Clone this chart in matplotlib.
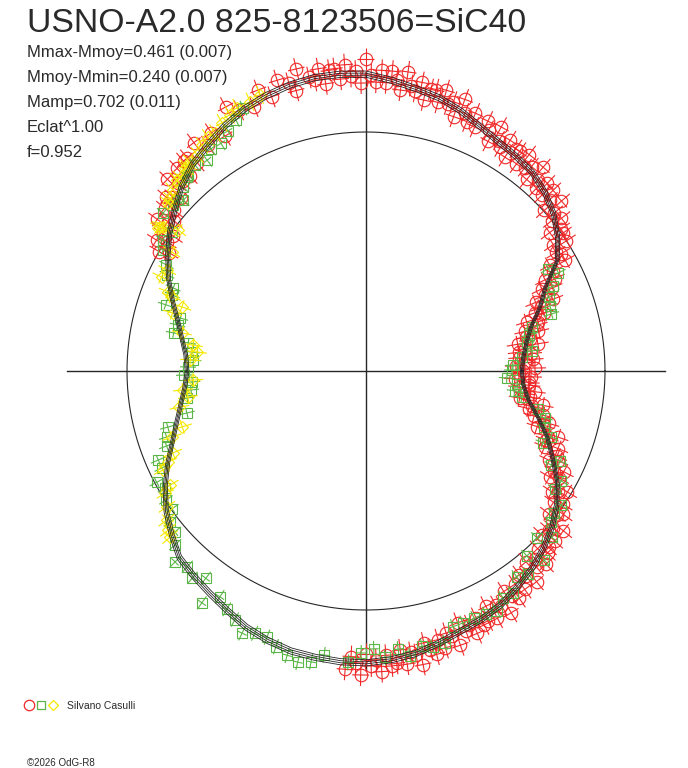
import numpy as np
import matplotlib
matplotlib.use('Agg')
import matplotlib.pyplot as plt
from matplotlib.collections import LineCollection

# polar light curve: angle = phase (deg), radius in plot units (reference circle = 2.39)
model_deg = list(range(0, 360, 5))
model_r = [1.56, 1.58, 1.63, 1.71, 1.85, 1.98, 2.21, 2.34, 2.45, 2.53,
           2.59, 2.62, 2.65, 2.70, 2.77, 2.83, 2.87, 2.92, 2.97, 2.98,
           2.98, 2.96, 2.93, 2.89, 2.83, 2.76, 2.70, 2.61, 2.50, 2.40,
           2.29, 2.18, 2.06, 1.95, 1.87, 1.81, 1.79, 1.82, 1.88, 1.96,
           2.06, 2.19, 2.32, 2.44, 2.54, 2.64, 2.68, 2.72, 2.77, 2.83,
           2.87, 2.90, 2.91, 2.92, 2.92, 2.90, 2.87, 2.82, 2.77, 2.74,
           2.70, 2.64, 2.58, 2.51, 2.43, 2.33, 2.21, 2.06, 1.93, 1.78,
           1.65, 1.58]
model_spread = [0.989, 0.996, 1.003, 1.010]

red_deg = [150, 149, 148, 147, 146, 145, 144, 143, 142, 141,
           140, 139, 138, 137, 136, 135, 134, 133, 132, 131,
           130, 129, 127, 125, 123, 121, 118, 116, 113, 111,
           109, 107, 105, 104, 103, 101, 100, 99, 98, 97,
           96, 95, 94, 93, 92, 91, 90, 89, 88, 87,
           86, 85, 84, 83, 82, 81, 80, 79, 78, 77,
           76, 75, 74, 73, 72, 71, 70, 69, 68, 67,
           66, 64, 63, 62, 61, 60, 59, 58, 57, 56,
           55, 54, 53, 52, 51, 50, 49, 48, 47, 46,
           45, 44, 43, 42, 41, 40, 39, 38, 37, 36,
           35, 34, 33, 32, 31, 30, 29, 28, 27, 26,
           25, 24, 23, 22, 21, 20, 19, 18, 17, 16,
           15, 14, 13, 12, 11, 10, 9, 8, 7, 6,
           5, 4, 3, 2, 1, 0, -1, -2, -3, -4,
           -5, -6, -7, -8, -9, -10, -11, -12, -13, -14,
           -15, -16, -17, -18, -19, -20, -21, -22, -23, -24,
           -25, -26, -27, -28, -29, -30, -31, -32, -33, -34,
           -35, -36, -37, -38, -39, -40, -41, -42, -43, -44,
           -45, -46, -47, -48, -49, -50, -51, -52, -53, -54,
           -55, -56, -57, -58, -59, -60, -61, -62, -63, -64,
           -65, -66, -67, -68, -69, -70, -71, -72, -73, -74,
           -75, -76, -77, -78, -79, -80, -81, -82, -83, -84,
           -85, -86, -87, -88, -89, -90, -91, -92, -93, -94]
red_r = [2.39, 2.30, 2.47, 2.37, 2.45, 2.35, 2.58, 2.48, 2.44, 2.59,
         2.50, 2.65, 2.60, 2.53, 2.76, 2.66, 2.64, 2.77, 2.63, 2.78,
         2.78, 2.68, 2.86, 2.76, 2.84, 2.74, 2.99, 2.90, 2.87, 3.01,
         2.90, 3.04, 2.98, 2.89, 3.10, 2.99, 2.95, 3.06, 2.90, 3.03,
         3.04, 2.93, 3.07, 2.95, 3.00, 2.88, 3.12, 2.96, 2.89, 3.01,
         2.89, 3.01, 2.93, 2.83, 3.02, 2.89, 2.84, 2.94, 2.77, 2.89,
         2.90, 2.78, 2.92, 2.79, 2.83, 2.69, 2.89, 2.76, 2.69, 2.80,
         2.67, 2.78, 2.70, 2.60, 2.79, 2.66, 2.61, 2.72, 2.55, 2.68,
         2.68, 2.56, 2.71, 2.58, 2.63, 2.50, 2.70, 2.57, 2.50, 2.61,
         2.49, 2.60, 2.51, 2.40, 2.59, 2.46, 2.39, 2.48, 2.30, 2.41,
         2.40, 2.26, 2.39, 2.24, 2.27, 2.12, 2.28, 2.12, 2.01, 2.10,
         1.94, 2.04, 1.94, 1.83, 2.00, 1.86, 1.79, 1.87, 1.68, 1.79,
         1.77, 1.64, 1.77, 1.64, 1.67, 1.54, 1.74, 1.61, 1.54, 1.66,
         1.54, 1.67, 1.59, 1.50, 1.69, 1.57, 1.53, 1.65, 1.49, 1.63,
         1.64, 1.54, 1.70, 1.60, 1.66, 1.56, 1.80, 1.70, 1.67, 1.82,
         1.74, 1.90, 1.86, 1.80, 2.03, 1.94, 1.93, 2.07, 1.94, 2.09,
         2.12, 2.04, 2.22, 2.13, 2.21, 2.12, 2.35, 2.26, 2.22, 2.38,
         2.29, 2.44, 2.39, 2.32, 2.54, 2.44, 2.42, 2.54, 2.40, 2.54,
         2.57, 2.47, 2.64, 2.53, 2.60, 2.49, 2.71, 2.60, 2.55, 2.70,
         2.60, 2.74, 2.68, 2.60, 2.82, 2.71, 2.68, 2.80, 2.64, 2.78,
         2.80, 2.70, 2.85, 2.74, 2.79, 2.68, 2.90, 2.79, 2.74, 2.88,
         2.78, 2.92, 2.86, 2.78, 2.99, 2.88, 2.85, 2.96, 2.81, 2.94,
         2.96, 2.85, 3.01, 2.89, 2.95, 2.83, 3.04, 2.92, 2.86, 2.99]

green_deg = [29.3, 27.0, 24.4, 22.0, 19.5, 17.1, 14.8, 12.5, 9.9, 6.9,
             5.1, 2.3, 0.4, -2.8, -4.9, -7.6, -9.5, -12.5, -14.7, -17.5,
             -19.6, -22.1, -24.9, -26.9, -29.4, -32.0, -34.5, -37.1, -39.2, -41.8,
             -44.3, -46.7, -49.0, -51.4, -53.8, -56.5, -58.9, -61.4, -63.7, -66.4,
             -69.0, -71.2, -73.8, -76.4, -78.5, -81.2, -83.4, -86.2, -88.4, -91.0,
             -93.5, -98.4, 217.6, 220.1, 222.3, 225.0, 227.6, 230.0, 232.3, 234.7,
             237.1, 239.7, 242.2, 244.7, 247.0, 249.6, 251.9, 254.5, 256.8, 259.3,
             129.7, 132.7, 136.9, 139.3, 142.1, 144.4, 147.2, 149.2, 152.0, 154.2,
             156.7, 158.6, 161.7, 164.1, 166.3, 168.8, 171.0, 173.8, 176.4, 178.7,
             181.3, 183.6, 186.2, 188.6, 193.2, 195.8, 198.3, 200.6, 203.2, 205.4,
             208.0, 210.2, 212.8, 215.4, 115.0, 117.4, 119.9, 122.5, 124.9, 127.0,
             132.2, 134.8, 137.7]
green_r = [2.09, 2.16, 2.05, 1.97, 1.95, 1.94, 1.72, 1.67, 1.63, 1.67,
           1.57, 1.47, 1.46, 1.41, 1.52, 1.50, 1.58, 1.76, 1.85, 1.87,
           1.96, 1.91, 2.14, 2.08, 2.24, 2.23, 2.37, 2.36, 2.39, 2.49,
           2.39, 2.60, 2.45, 2.60, 2.55, 2.66, 2.65, 2.73, 2.71, 2.70,
           2.70, 2.70, 2.83, 2.84, 2.81, 2.88, 2.80, 2.87, 2.78, 2.82,
           2.92, 2.87, 2.47, 2.50, 2.58, 2.70, 2.65, 2.70, 2.62, 2.84,
           2.69, 2.76, 2.81, 2.90, 2.85, 2.84, 2.90, 2.95, 2.99, 2.96,
           2.68, 2.64, 2.50, 2.55, 2.57, 2.39, 2.42, 2.36, 2.26, 2.21,
           2.10, 2.08, 2.11, 1.93, 1.94, 1.96, 1.80, 1.75, 1.73, 1.78,
           1.82, 1.74, 1.76, 1.81, 1.84, 2.06, 2.10, 2.13, 2.26, 2.26,
           2.37, 2.33, 2.38, 2.38, 2.90, 2.83, 2.77, 2.70, 2.71, 2.64,
           2.65, 2.60, 2.54]

yellow_deg = [111.0, 113.3, 116.1, 118.0, 120.1, 122.4, 124.1, 126.0, 128.0, 130.2,
              131.7, 134.7, 136.8, 139.7, 145.0, 143.1, 131.3, 134.0, 138.6, 144.6,
              145.5, 148.5, 153.1, 155.3, 158.2, 159.1, 160.8, 163.3, 168.3, 171.5,
              173.6, 176.4, 183.0, 185.9, 188.3, 191.0, 196.9, 198.8, 203.0, 204.7,
              206.0, 210.2, 211.3, 214.3, 216.8, 218.8, 220.3]
yellow_r = [2.96, 2.93, 2.93, 2.90, 2.87, 2.82, 2.82, 2.79, 2.74, 2.73,
            2.72, 2.69, 2.65, 2.60, 2.51, 2.35, 2.71, 2.68, 2.61, 2.49,
            2.52, 2.28, 2.23, 2.25, 2.13, 2.08, 1.95, 2.02, 1.88, 1.75,
            1.70, 1.76, 1.73, 1.84, 1.80, 1.90, 1.92, 2.05, 2.10, 2.18,
            2.26, 2.27, 2.35, 2.41, 2.49, 2.54, 2.57]

ref_radius = 2.39
axis_half = 2.99

title = "USNO-A2.0 825-8123506=SiC40"
info_lines = ["Mmax-Mmoy=0.461 (0.007)", "Mmoy-Mmin=0.240 (0.007)",
              "Mamp=0.702 (0.011)", "Eclat^1.00", "f=0.952"]

RED = '#f02828'
GREEN = '#5ab646'
YELLOW = '#f5e800'
INK = '#262626'


def to_xy(deg, r):
    th = np.radians(np.asarray(deg, dtype=float))
    r = np.asarray(r, dtype=float)
    return r * np.cos(th), r * np.sin(th)


def bar_segments(deg, r, rad, tan):
    th = np.radians(np.asarray(deg, dtype=float))
    x, y = to_xy(deg, r)
    ux, uy = np.cos(th), np.sin(th)
    tx, ty = -uy, ux
    segs = []
    for i in range(len(x)):
        segs.append([(x[i] - rad * ux[i], y[i] - rad * uy[i]),
                     (x[i] + rad * ux[i], y[i] + rad * uy[i])])
        segs.append([(x[i] - tan * tx[i], y[i] - tan * ty[i]),
                     (x[i] + tan * tx[i], y[i] + tan * ty[i])])
    return segs


fig = plt.figure(figsize=(6.88, 7.68), dpi=100)
ax = fig.add_axes([0, 0, 1, 1])
ax.set_xlim(-3.66, 3.22)
ax.set_ylim(-3.97, 3.71)
ax.axis('off')

# cross and reference circle
ax.plot([-axis_half, axis_half], [0, 0], color=INK, lw=1.0, zorder=1)
ax.plot([0, 0], [-axis_half, axis_half], color=INK, lw=1.0, zorder=1)
circ = np.linspace(0, 2 * np.pi, 400)
ax.plot(ref_radius * np.cos(circ), ref_radius * np.sin(circ), color=INK, lw=0.8, zorder=1)

# observations
series = [(red_deg, red_r, RED, 'o', 9.0, 0.11, 0.085),
          (green_deg, green_r, GREEN, 's', 7.0, 0.08, 0.05),
          (yellow_deg, yellow_r, YELLOW, 'D', 6.2, 0.10, 0.07)]
z = 2
for deg, r, col, mk, ms, rad, tan in series:
    ax.add_collection(LineCollection(bar_segments(deg, r, rad, tan), colors=col,
                                     linewidths=0.8, zorder=z))
    x, y = to_xy(deg, r)
    ax.plot(x, y, ls='none', marker=mk, ms=ms, mfc='none', mec=col, mew=0.8, zorder=z)
    z += 1

# fitted curves
mdeg = model_deg + [model_deg[0] + 360]
mr = np.array(model_r + [model_r[0]])
for k in model_spread:
    x, y = to_xy(mdeg, mr * k)
    ax.plot(x, y, color=INK, lw=0.6, zorder=6)

# texts
W, H = 688.0, 768.0
fig.text(27 / W, 1 - 32 / H, title, fontsize=24.3, family='Liberation Sans',
         color='#2a2a2a', va='baseline')
for i, s in enumerate(info_lines):
    fig.text(27 / W, 1 - (57 + 25 * i) / H, s, fontsize=12, family='Liberation Sans',
             color='#2a2a2a', va='baseline')

fig.text(67 / W, 1 - 709 / H, "Silvano Casulli", fontsize=7.5, family='Liberation Sans',
         color='#2a2a2a', va='baseline')
fig.text(27 / W, 1 - 766 / H, "\u00a92026 OdG-R8", fontsize=7, family='Liberation Sans',
         color='#2a2a2a', va='baseline')

lax = fig.add_axes([0, 0, 1, 1], facecolor='none')
lax.set_xlim(0, W)
lax.set_ylim(H, 0)
lax.axis('off')
lax.plot([29], [705], marker='o', ms=7.5, mfc='none', mec=RED, mew=0.9, ls='none')
lax.plot([41], [705], marker='s', ms=6.0, mfc='none', mec=GREEN, mew=0.9, ls='none')
lax.plot([53], [705], marker='D', ms=5.4, mfc='none', mec=YELLOW, mew=0.9, ls='none')

fig.savefig('out.png', dpi=100)
